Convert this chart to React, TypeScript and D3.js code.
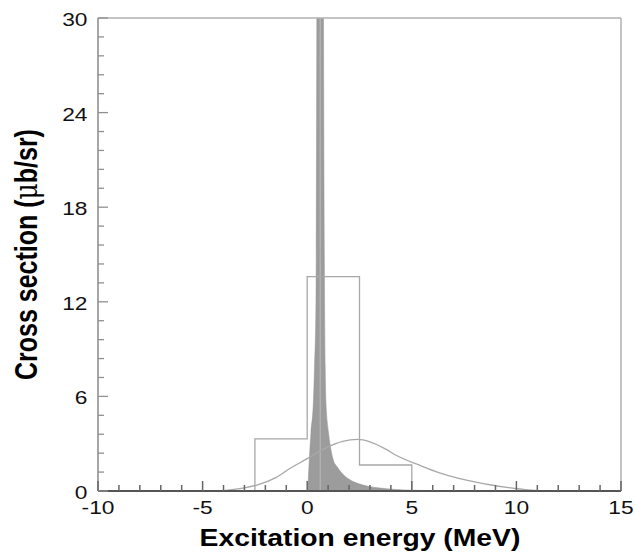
import React from "react";
import * as d3 from "d3";

const xTicks = [-10, -5, 0, 5, 10, 15];
const yTicks = [0, 6, 12, 18, 24, 30];

const histEdges = [-2.5, 0, 2.5, 5];
const histValues = [3.3, 13.6, 1.65];

const curveE = [-5, -4.3, -4, -3.5, -3, -2.4, -1.5, -0.81, 0, 0.5, 1.02, 1.7, 2.4, 3.0, 3.8, 4.2, 5.4, 6.36, 7.2, 7.95, 8.8, 9.55, 10.34, 11, 12];
const curveValues = [0, 0.01, 0.03, 0.1, 0.2, 0.38, 0.85, 1.44, 2.05, 2.45, 2.81, 3.15, 3.27, 3.12, 2.62, 2.3, 1.62, 1.14, 0.82, 0.59, 0.38, 0.23, 0.1, 0.03, 0];

const peakE = [0, 0.03, 0.1, 0.14, 0.18, 0.3, 0.35, 0.42, 0.46, 0.5, 0.62, 0.74, 0.78, 0.83, 0.86, 0.89, 1.02, 1.1, 1.24, 1.45, 1.66, 2.0, 2.38, 2.9, 3.4, 4.2, 5.0, 6.0, 7.0];
const peakValues = [0, 0.3, 2.0, 2.9, 3.7, 5.8, 7.9, 12, 30, 60, 150, 60, 30, 12, 7.9, 5.8, 3.7, 2.9, 2.0, 1.5, 1.13, 0.75, 0.5, 0.3, 0.2, 0.1, 0.05, 0.02, 0];
const peakCentre = 0.62;

const xLabel = "Excitation energy (MeV)";
const yLabelMain = "Cross section (";
const yLabelMu = "\u03bc";
const yLabelEnd = "b/sr)";

export default function App() {
  const W = 636, H = 552;
  const x = d3.scaleLinear().domain([-10, 15]).range([98, 621]);
  const y = d3.scaleLinear().domain([0, 30]).range([491, 18]);
  const font = "'Liberation Sans', Arial, Helvetica, sans-serif";

  const xMinor = d3.range(-10, 15.001, 1).filter((v) => !xTicks.some((t) => Math.abs(t - v) < 1e-6));
  const yMinor = d3.range(0, 30.001, 1.2).filter((v) => !yTicks.some((t) => Math.abs(t - v) < 1e-6));

  const histPts: [number, number][] = [];
  histPts.push([histEdges[0], 0]);
  histValues.forEach((v, i) => {
    histPts.push([histEdges[i], v]);
    histPts.push([histEdges[i + 1], v]);
  });
  histPts.push([histEdges[histEdges.length - 1], 0]);
  const lineGen = d3.line<[number, number]>().x((d) => x(d[0])).y((d) => y(d[1]));
  const histPath = lineGen(histPts) || "";

  const smooth = d3.line<[number, number]>().x((d) => x(d[0])).y((d) => y(d[1])).curve(d3.curveMonotoneX);
  const curvePath = smooth(curveE.map((e, i) => [e, curveValues[i]] as [number, number])) || "";

  const area = d3
    .area<[number, number]>()
    .x((d) => x(d[0]))
    .y0(y(0))
    .y1((d) => y(d[1]))
    .curve(d3.curveMonotoneX);
  const peakPath = area(peakE.map((e, i) => [e, peakValues[i]] as [number, number])) || "";

  const yLabelX = 37;
  const yLabelY = 254.5;

  return (
    <svg width={W} height={H} style={{ position: "absolute", left: 0, top: 0, background: "#fff" }}>
      <defs>
        <clipPath id="plotClip">
          <rect x={x(-10)} y={y(30)} width={x(15) - x(-10)} height={y(0) - y(30)} />
        </clipPath>
      </defs>
      <rect x={0} y={0} width={W} height={H} fill="#fff" />
      <g clipPath="url(#plotClip)">
        <path d={peakPath} fill="#9c9c9c" stroke="#939393" strokeWidth={0.5} />
        <line x1={x(peakCentre)} x2={x(peakCentre)} y1={y(0)} y2={y(30)} stroke="#bdbdbd" strokeWidth={1} />
        <path d={histPath} fill="none" stroke="#a8a8a8" strokeWidth={1.3} />
        <path d={curvePath} fill="none" stroke="#a8a8a8" strokeWidth={1.3} />
      </g>
      {/* frame */}
      <line x1={x(-10)} x2={x(15)} y1={y(30)} y2={y(30)} stroke="#b0b0b0" strokeWidth={1.5} />
      <line x1={x(15)} x2={x(15)} y1={y(30)} y2={y(0)} stroke="#b0b0b0" strokeWidth={1.5} />
      <line x1={x(-10)} x2={x(-10)} y1={y(30)} y2={y(0)} stroke="#909090" strokeWidth={1.6} />
      <line x1={x(-10)} x2={x(15)} y1={y(0)} y2={y(0)} stroke="#555" strokeWidth={2} />
      {/* x ticks */}
      {xTicks.map((t) => (
        <line key={"xt" + t} x1={x(t)} x2={x(t)} y1={y(0)} y2={y(0) - 10} stroke="#666" strokeWidth={1.5} />
      ))}
      {xMinor.map((t) => (
        <line key={"xm" + t} x1={x(t)} x2={x(t)} y1={y(0)} y2={y(0) - 6} stroke="#666" strokeWidth={1.5} />
      ))}
      {/* y ticks */}
      {yTicks.map((t) => (
        <line key={"yt" + t} x1={x(-10)} x2={x(-10) + 10} y1={y(t)} y2={y(t)} stroke="#909090" strokeWidth={1.3} />
      ))}
      {yMinor.map((t) => (
        <line key={"ym" + t} x1={x(-10)} x2={x(-10) + 6} y1={y(t)} y2={y(t)} stroke="#909090" strokeWidth={1.3} />
      ))}
      {/* tick labels */}
      {xTicks.map((t) => (
        <text
          key={"xl" + t}
          transform={`translate(${x(t)},${513.5}) scale(1.3,1)`}
          textAnchor="middle"
          fontFamily={font}
          fontSize={17.5}
          fill="#111"
        >
          {String(t)}
        </text>
      ))}
      {yTicks.map((t) => (
        <text
          key={"yl" + t}
          transform={`translate(${87.5},${y(t) + 8}) scale(1.3,1)`}
          textAnchor="end"
          fontFamily={font}
          fontSize={17.5}
          fill="#111"
        >
          {String(t)}
        </text>
      ))}
      {/* axis titles */}
      <text
        transform={`translate(360,546) scale(1.18,1)`}
        textAnchor="middle"
        fontFamily={font}
        fontWeight="bold"
        fontSize={24}
        fill="#000"
      >
        {xLabel}
      </text>
      <text
        transform={`translate(${yLabelX},${yLabelY}) scale(1.25,1) rotate(-90)`}
        textAnchor="middle"
        fontFamily={font}
        fontWeight="bold"
        fontSize={25}
        fill="#000"
      >
        {yLabelMain}
        <tspan fontWeight="normal" fontFamily="'DejaVu Serif', serif">{yLabelMu}</tspan>
        {yLabelEnd}
      </text>
    </svg>
  );
}
